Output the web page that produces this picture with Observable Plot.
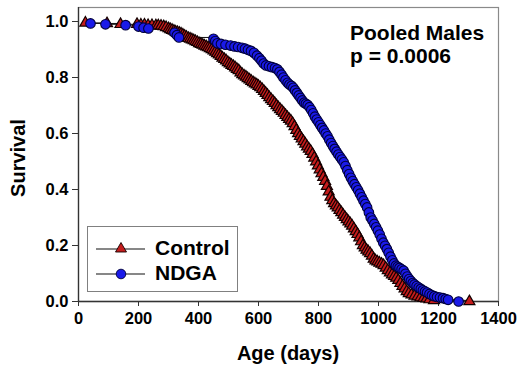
<!DOCTYPE html>
<html><head><meta charset="utf-8">
<script src="https://cdn.jsdelivr.net/npm/d3@7"></script>
<script src="https://cdn.jsdelivr.net/npm/@observablehq/plot@0.6"></script>
<style>
body{margin:0;background:#fff;}
#chart{position:relative;width:518px;height:368px;font-family:"Liberation Sans",Arial,sans-serif;font-weight:bold;color:#000;}
#chart svg [aria-label$="tick label"] text{font-size:16.5px;font-weight:bold;font-family:"Liberation Sans",Arial,sans-serif;}
#title{position:absolute;left:350px;top:21px;font-size:21px;line-height:23px;white-space:nowrap;}
#xlab{position:absolute;left:288px;top:343px;transform:translateX(-50%);font-size:20px;line-height:20px;white-space:nowrap;}
#ylab{position:absolute;left:18px;top:158px;transform:translate(-50%,-50%) rotate(-90deg);font-size:20px;line-height:20px;white-space:nowrap;}
#legend{position:absolute;left:87px;top:226px;width:149px;height:64px;border:1.5px solid #808080;background:#fff;}
.row{position:absolute;left:0;width:149px;height:25px;}
.row svg{position:absolute;left:8px;top:1px;}
.row span{position:absolute;left:67px;top:0px;font-size:21px;line-height:21px;white-space:nowrap;}
</style>
</head><body>
<div id="chart"></div>
<script>
// ---- data ----
const seriesNames = ["Control", "NDGA"];
const controlAge = [23,95,140,195,208,220,232,245,258,266,275,284,292,300,306,312,318,324,330,336,342,348,354,360,366,372,378,384,390,396,402,408,414,420,426,432,438,444,450,456,462,468,474,480,486,492,498,504,510,516,522,528,534,540,546,552,558,564,570,576,582,588,594,600,606,612,618,624,630,636,642,648,654,660,666,672,678,684,690,696,702,708,714,720,726,732,738,744,750,756,762,768,774,780,786,792,798,804,810,816,822,828,834,840,846,852,858,864,870,876,882,888,894,900,906,912,918,924,930,936,942,948,954,960,966,972,978,984,990,996,1003,1010,1017,1024,1031,1038,1045,1052,1059,1066,1073,1080,1087,1094,1101,1110,1120,1130,1140,1150,1160,1170,1185,1303];
const controlSurv = [0.995,0.993,0.99,0.99,0.988,0.988,0.986,0.986,0.985,0.985,0.984,0.982,0.979,0.975,0.972,0.969,0.966,0.963,0.961,0.959,0.956,0.952,0.948,0.944,0.94,0.938,0.935,0.932,0.929,0.926,0.922,0.919,0.916,0.913,0.91,0.907,0.904,0.9,0.896,0.891,0.886,0.881,0.876,0.87,0.865,0.86,0.854,0.849,0.844,0.84,0.835,0.83,0.825,0.817,0.811,0.806,0.802,0.797,0.792,0.787,0.782,0.778,0.774,0.769,0.764,0.758,0.751,0.744,0.737,0.729,0.722,0.715,0.708,0.70,0.693,0.686,0.68,0.673,0.665,0.658,0.651,0.645,0.636,0.625,0.612,0.60,0.59,0.581,0.572,0.563,0.553,0.545,0.537,0.526,0.513,0.499,0.485,0.471,0.457,0.444,0.43,0.412,0.392,0.373,0.361,0.35,0.342,0.335,0.326,0.318,0.309,0.301,0.293,0.285,0.278,0.27,0.26,0.25,0.24,0.228,0.214,0.20,0.192,0.184,0.178,0.172,0.163,0.152,0.146,0.142,0.138,0.134,0.129,0.12,0.111,0.103,0.096,0.09,0.084,0.076,0.065,0.055,0.046,0.036,0.029,0.024,0.02,0.017,0.014,0.012,0.01,0.007,0.004,0.0];
const ndgaAge = [40,90,157,200,217,233,320,328,335,450,456,463,475,490,507,520,532,545,555,565,575,585,595,603,610,617,625,635,645,655,663,670,677,683,690,697,703,710,716,722,728,734,740,746,752,758,764,770,776,782,788,794,800,806,812,818,824,830,836,842,848,854,860,866,872,878,884,890,896,902,908,914,920,926,932,938,944,950,956,962,968,974,980,986,992,998,1004,1010,1016,1022,1028,1034,1040,1046,1052,1058,1064,1070,1077,1084,1090,1096,1102,1108,1114,1120,1127,1134,1141,1148,1155,1162,1170,1178,1186,1195,1205,1215,1224,1232,1267];
const ndgaSurv = [0.993,0.99,0.987,0.982,0.978,0.975,0.96,0.951,0.943,0.938,0.93,0.922,0.92,0.917,0.914,0.911,0.909,0.906,0.903,0.899,0.895,0.888,0.878,0.869,0.86,0.85,0.843,0.84,0.837,0.834,0.829,0.82,0.81,0.80,0.79,0.781,0.775,0.77,0.763,0.754,0.745,0.736,0.727,0.718,0.71,0.706,0.702,0.694,0.684,0.672,0.66,0.65,0.64,0.63,0.62,0.611,0.60,0.59,0.578,0.566,0.555,0.545,0.535,0.525,0.516,0.507,0.497,0.484,0.469,0.455,0.442,0.43,0.419,0.408,0.397,0.385,0.372,0.36,0.348,0.336,0.318,0.30,0.289,0.277,0.265,0.253,0.239,0.224,0.21,0.199,0.187,0.174,0.16,0.147,0.136,0.128,0.124,0.12,0.115,0.11,0.099,0.089,0.08,0.073,0.066,0.061,0.055,0.05,0.045,0.04,0.036,0.032,0.027,0.022,0.019,0.016,0.014,0.012,0.009,0.006,0.0];
const xTicks = [0,200,400,600,800,1000,1200,1400];
const yTicks = [0,0.2,0.4,0.6,0.8,1.0];
const titleLines = ["Pooled Males", "p = 0.0006"];
const xLabel = "Age (days)";
const yLabel = "Survival";

// ---- build tables ----
const control = controlAge.map((a,i)=>({age:a, surv:controlSurv[i]}));
const ndga = ndgaAge.map((a,i)=>({age:a, surv:ndgaSurv[i]}));

const plot = Plot.plot({
  width: 518, height: 368,
  marginLeft: 78, marginRight: 20, marginTop: 7, marginBottom: 67,
  style: {fontFamily: "'Liberation Sans', Arial, sans-serif", fontWeight: "bold", fontSize: "16px", color: "#000", background: "#fff", overflow: "visible"},
  x: {domain: [0, 1400]},
  y: {domain: [0, 1.05]},
  marks: [
    Plot.frame({stroke: "#8a8a8a", strokeWidth: 1.2}),
    Plot.axisX({ticks: xTicks, tickSize: 5, tickPadding: 6, tickFormat: d => String(d), stroke: "#333", fill: "#000", label: null}),
    Plot.axisY({ticks: yTicks, tickSize: 6, tickPadding: 4, tickFormat: ".1f", stroke: "#333", fill: "#000", label: null}),
    Plot.ruleY([0], {stroke: "#333", strokeWidth: 1.3}),
    Plot.ruleX([0], {stroke: "#333", strokeWidth: 1.3}),
    Plot.line(control, {x: "age", y: "surv", curve: "step-after", stroke: "#111", strokeWidth: 1}),
    Plot.line(ndga, {x: "age", y: "surv", curve: "step-after", stroke: "#111", strokeWidth: 1}),
    Plot.dot(control, {x: "age", y: "surv", symbol: "triangle", r: 4.1, fill: "#c41c1c", stroke: "#140000", strokeWidth: 1.2}),
    Plot.dot(ndga, {x: "age", y: "surv", symbol: "circle", r: 4.8, fill: "#1a1ae8", stroke: "#00003a", strokeWidth: 1.1})
  ]
});
const chart = document.getElementById("chart");
chart.appendChild(plot);

// axis labels
const xl = document.createElement("div"); xl.id = "xlab"; xl.textContent = xLabel; chart.appendChild(xl);
const yl = document.createElement("div"); yl.id = "ylab"; yl.textContent = yLabel; chart.appendChild(yl);

// title
const t = document.createElement("div");
t.id = "title";
t.innerHTML = titleLines.map(s=>`<div>${s}</div>`).join("");
chart.appendChild(t);

// legend
const lg = document.createElement("div");
lg.id = "legend";
const symbols = [
  `<polygon points="25,4.5 30.5,14 19.5,14" fill="#c41c1c" stroke="#140000" stroke-width="0.9"/>`,
  `<circle cx="25" cy="11" r="4.8" fill="#1a1ae8" stroke="#00003a" stroke-width="0.9"/>`
];
seriesNames.forEach((name, i) => {
  const row = document.createElement("div");
  row.className = "row";
  row.style.top = (10 + i*25) + "px";
  row.innerHTML = `<svg width="50" height="22"><line x1="0" x2="49" y1="11" y2="11" stroke="#111" stroke-width="1.2"/>${symbols[i]}</svg><span>${name}</span>`;
  lg.appendChild(row);
});
chart.appendChild(lg);
</script>
</body></html>
